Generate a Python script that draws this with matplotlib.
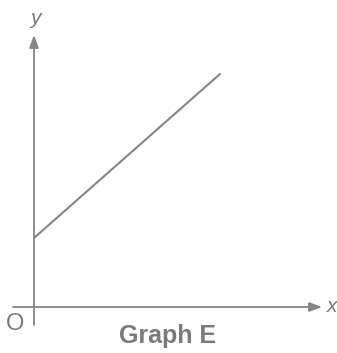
import matplotlib
matplotlib.use("Agg")
from matplotlib import pyplot as plt

# straight line with positive intercept (graph E)
line_x = [0, 186]
line_y = [69, 233]
title = "Graph E"

axis_col = "#858585"
text_col = "#7a7a7a"
plt.rcParams['font.family'] = ['Liberation Sans', 'DejaVu Sans']

fig = plt.figure(figsize=(3.37, 3.53), dpi=100)
ax = fig.add_axes([0, 0, 1, 1])
ax.set_xlim(-34, 303)
ax.set_ylim(-46, 307)
ax.axis("off")

arrow = dict(arrowstyle="-|>,head_length=0.75,head_width=0.28",
             color=axis_col, lw=1.3, shrinkA=0, shrinkB=0)
ax.annotate("", xy=(288, 0), xytext=(-21, 0), arrowprops=arrow)
ax.annotate("", xy=(0, 272), xytext=(0, -18), arrowprops=arrow)

ax.plot(line_x, line_y, color=axis_col, lw=1.5, solid_capstyle="round")

ax.text(293, 0, "x", color=text_col, fontsize=15, fontstyle="italic",
        ha="left", va="center")
ax.text(1, 289, "y", color=text_col, fontsize=15, fontstyle="italic",
        ha="center", va="center")
ax.text(-19, -17, "O", color=text_col, fontsize=17, ha="center", va="center")
ax.text(134, -36, title, color=text_col, fontsize=18, fontweight="bold",
        ha="center", va="baseline")

fig.savefig("out.png", dpi=100)
